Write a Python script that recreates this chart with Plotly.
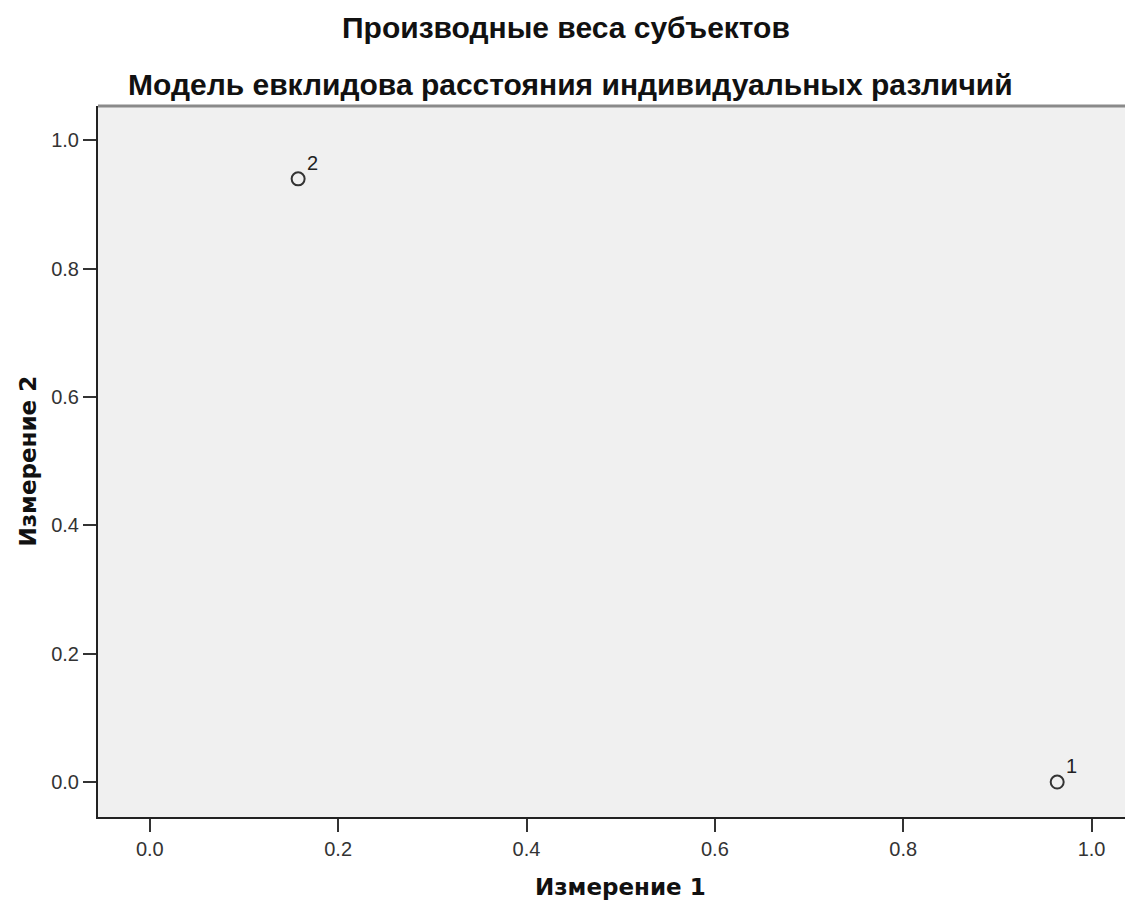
import plotly.graph_objects as go

subjects = ["1", "2"]
dim1 = [0.9635, 0.1575]
dim2 = [0.0, 0.940]
tick_vals = [0.0, 0.2, 0.4, 0.6, 0.8, 1.0]
tick_text = ["0.0", "0.2", "0.4", "0.6", "0.8", "1.0"]

title_main = "Производные веса субъектов"
title_sub = "Модель евклидова расстояния индивидуальных различий"
x_title = "Измерение 1"
y_title = "Измерение 2"

fig = go.Figure()
fig.add_trace(go.Scatter(
    x=dim1, y=dim2, mode="markers",
    marker=dict(symbol="circle-open", size=13, color="#333", line=dict(width=2, color="#333")),
    hoverinfo="skip", cliponaxis=False,
))

for sx, sy, lab in zip(dim1, dim2, subjects):
    fig.add_annotation(x=sx, y=sy, text=lab, showarrow=False, xshift=14, yshift=16,
                       font=dict(family="Liberation Sans, Arial", size=20, color="#222"))

fig.update_layout(
    width=1125, height=894,
    margin=dict(l=90, r=0, t=98, b=85),
    paper_bgcolor="white", plot_bgcolor="#f0f0f0",
    showlegend=False,
    font=dict(family="Liberation Sans, Arial", color="#222"),
    xaxis=dict(range=[-0.055, 1.044], tickvals=tick_vals, ticktext=tick_text,
               showgrid=False, zeroline=False, showline=True, linecolor="#222", linewidth=2,
               ticks="outside", ticklen=13, tickwidth=2, tickcolor="#333",
               tickfont=dict(size=20, color="#333")),
    yaxis=dict(range=[-0.0545, 1.0535], tickvals=tick_vals, ticktext=tick_text,
               showgrid=False, zeroline=False, showline=True, linecolor="#222", linewidth=2,
               ticks="outside", ticklen=13, tickwidth=2, tickcolor="#333",
               tickfont=dict(size=20, color="#333")),
)

fig.add_shape(type="line", xref="paper", yref="paper", x0=0, x1=1, y0=1, y1=1,
              line=dict(color="#8a8a8a", width=3))

title_font = dict(family="Liberation Sans, Arial", size=30, color="#111", weight="bold")
axis_font = dict(family="DejaVu Sans", size=23, color="#111", weight="bold")

fig.add_annotation(text=title_main, xref="paper", yref="paper", x=(566 - 98) / 1035,
                   y=(817 - 27.5) / 711, yanchor="middle", showarrow=False, font=title_font)
fig.add_annotation(text=title_sub, xref="paper", yref="paper", x=(570 - 98) / 1035,
                   y=(817 - 84) / 711, yanchor="middle", showarrow=False, font=title_font)
fig.add_annotation(text=x_title, xref="paper", yref="paper", x=(620.5 - 98) / 1035,
                   y=(817 - 887) / 711, yanchor="middle", showarrow=False, font=axis_font)
fig.add_annotation(text=y_title, xref="paper", yref="paper", x=(27 - 98) / 1035,
                   y=0.5, xanchor="center", yanchor="middle", textangle=-90,
                   showarrow=False, font=axis_font)

fig.write_html("out.html")
